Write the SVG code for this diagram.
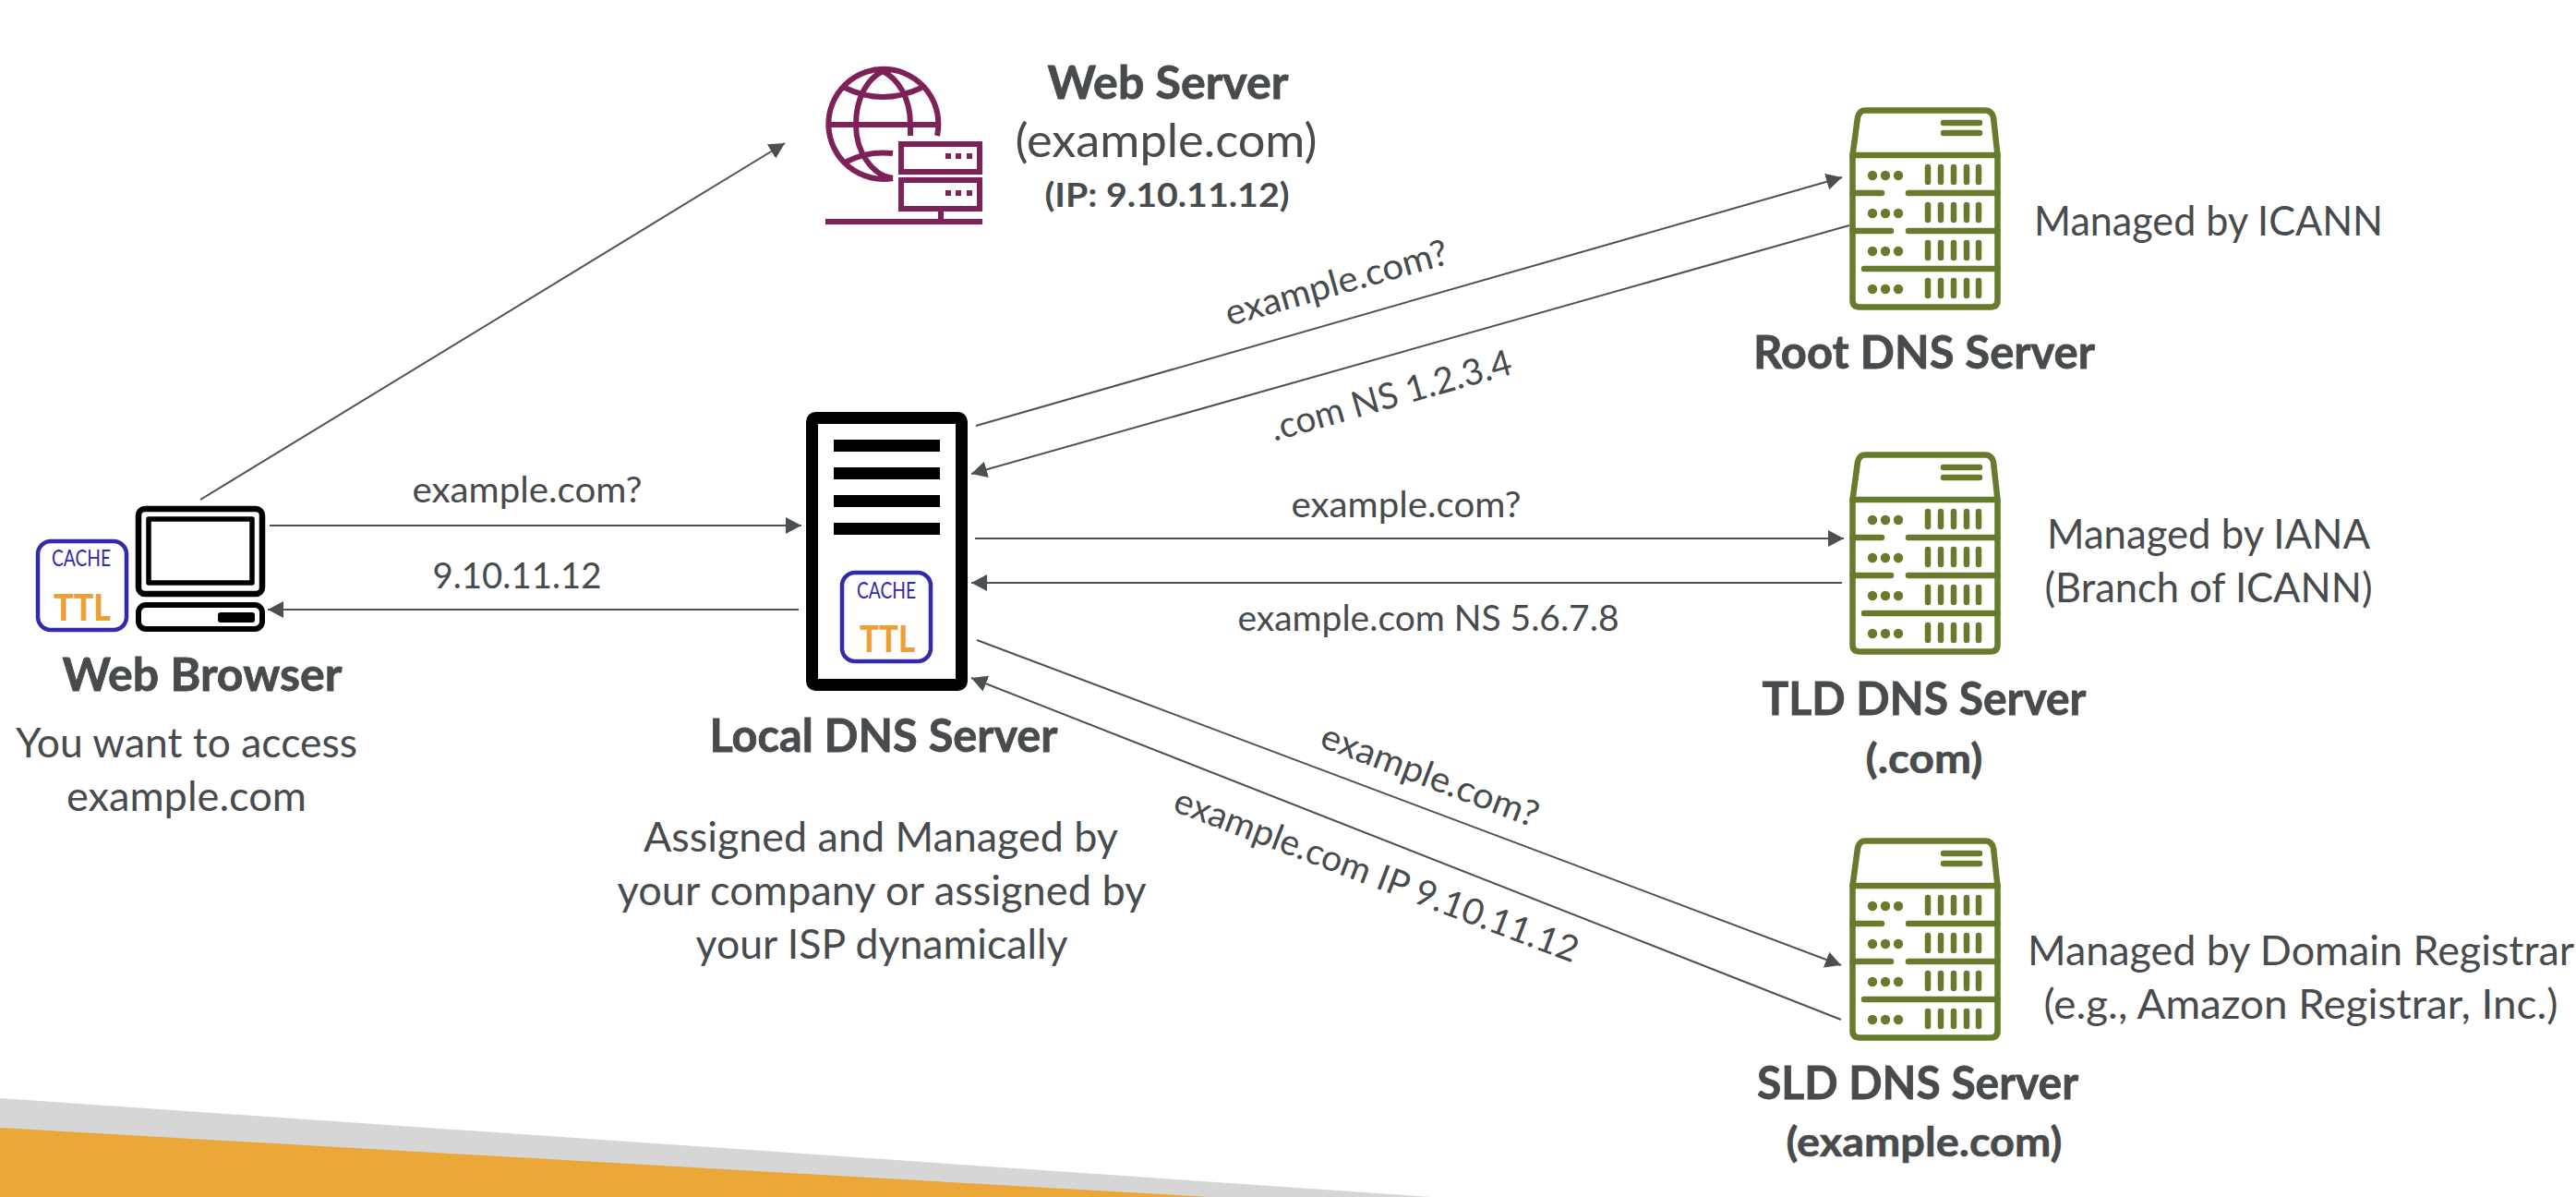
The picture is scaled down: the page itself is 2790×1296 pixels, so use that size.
<svg xmlns="http://www.w3.org/2000/svg" width="2790" height="1296" viewBox="0 0 2790 1296">
<style>
text{font-family:Lato,"Liberation Sans",sans-serif;fill:#474b4d;text-anchor:middle}
.b{font-weight:700;font-size:50px;stroke:#474b4d;stroke-width:.8}
.d{font-size:44px}
.l{font-size:39px}
.c{font-size:25px;fill:#3229ab}
.t{font-size:39px;font-weight:900;fill:#ec9f35}
.con line{stroke:#4d5153;stroke-width:2;marker-end:url(#a)}
.pc{fill:none;stroke:#000;stroke-linejoin:round}
.cb{fill:#fff;stroke:#3229ab;stroke-width:4.500}
.w{fill:none;stroke:#7d2158;stroke-width:6}
.wf{fill:#7d2158}
.s{fill:none;stroke:#687a2c;stroke-width:6.500;stroke-linecap:round;stroke-linejoin:round}
.sf{fill:#687a2c}
</style>
<defs>
<marker id="a" markerUnits="userSpaceOnUse" markerWidth="18" markerHeight="18" refX="17" refY="9" orient="auto"><path d="M0,0L17,9L0,18Z" fill="#4a4f51"/></marker>
<g id="srv">
<path class="s" d="M2020,119.500H2150Q2157,119.500 2159,127L2163.500,168V325Q2163.500,332.500 2156,332.500H2014Q2006.500,332.500 2006.500,325V168L2012,127Q2014,119.500 2020,119.500Z"/>
<path class="s" d="M2006.500,168H2163.500M2006.500,209H2038M2067,209H2163.500M2006.500,250H2048M2067,250H2163.500M2019,291H2163.500M2105,133H2144M2105,144H2144"/>
<g id="row">
<circle class="sf" cx="2028" cy="190" r="5.200"/><circle class="sf" cx="2042" cy="190" r="5.200"/><circle class="sf" cx="2056" cy="190" r="5.200"/>
<path class="s" d="M2088,181V197M2102,181V197M2116,181V197M2130,181V197M2143,181V197"/>
</g>
<use href="#row" y="41"/><use href="#row" y="82"/><use href="#row" y="123"/>
</g>
</defs>
<rect width="2790" height="1296" fill="#fff"/>
<g id="banner">
<path d="M0,1189L1550,1296H0Z" fill="#d6d6d6"/>
<path d="M0,1221L1310,1296H0Z" fill="#eba738"/>
</g>
<g id="connectors" class="con">
<line x1="217" y1="541" x2="850" y2="155"/>
<line x1="292" y1="569" x2="868" y2="569"/>
<line x1="865" y1="660" x2="290" y2="660"/>
<line x1="1057" y1="461" x2="1995" y2="192"/>
<line x1="2003" y1="244" x2="1052" y2="513"/>
<line x1="1056" y1="583" x2="1997" y2="583"/>
<line x1="1995" y1="631" x2="1052" y2="631"/>
<line x1="1058" y1="693" x2="1994" y2="1045"/>
<line x1="1994" y1="1104" x2="1052" y2="734"/>
</g>
<g id="labels">
<text class="l" x="571" y="544" textLength="249" lengthAdjust="spacingAndGlyphs">example.com?</text>
<text class="l" x="560" y="637" textLength="183" lengthAdjust="spacingAndGlyphs">9.10.11.12</text>
<text class="l" transform="translate(1451,319) rotate(-15.800)" textLength="249" lengthAdjust="spacingAndGlyphs">example.com?</text>
<text class="l" transform="translate(1510,441) rotate(-15.800)" textLength="270" lengthAdjust="spacingAndGlyphs">.com NS 1.2.3.4</text>
<text class="l" x="1523" y="560" textLength="249" lengthAdjust="spacingAndGlyphs">example.com?</text>
<text class="l" x="1547" y="683" textLength="413" lengthAdjust="spacingAndGlyphs">example.com NS 5.6.7.8</text>
<text class="l" transform="translate(1544,852) rotate(20.800)" textLength="249" lengthAdjust="spacingAndGlyphs">example.com?</text>
<text class="l" transform="translate(1486,960) rotate(20.800)" textLength="465" lengthAdjust="spacingAndGlyphs">example.com IP 9.10.11.12</text>
</g>
<g id="web-server">
<path class="w" d="M1015,147A59.500,59.500 0 1 0 967,193M897,135H1015M967,193C945,190 927,165 927,135C927,105 940,85 956,77C972,85 986,105 986,135V147M915,95Q956,115 998,95M917,175Q940,163 967,166"/>
<rect class="w" x="976" y="156" width="85" height="30"/>
<rect class="w" x="976" y="195" width="85" height="31"/>
<rect class="wf" x="1024" y="166" width="6" height="6"/><rect class="wf" x="1035" y="166" width="6" height="6"/><rect class="wf" x="1047" y="166" width="6" height="6"/>
<rect class="wf" x="1024" y="206" width="6" height="6"/><rect class="wf" x="1035" y="206" width="6" height="6"/><rect class="wf" x="1047" y="206" width="6" height="6"/>
<path class="w" d="M894,240H1064M1019,226V240"/>
<text class="b" x="1265" y="107" textLength="261" lengthAdjust="spacingAndGlyphs">Web Server</text>
<text x="1263" y="170" font-size="50" textLength="327" lengthAdjust="spacingAndGlyphs">(example.com)</text>
<text x="1264" y="224" font-size="37" font-weight="700" textLength="265" lengthAdjust="spacingAndGlyphs">(IP: 9.10.11.12)</text>
</g>
<g id="web-browser">
<rect class="pc" x="150" y="551" width="134" height="92" rx="7" stroke-width="6.500"/>
<rect class="pc" x="161" y="562" width="112" height="69" stroke-width="5.500"/>
<rect class="pc" x="150" y="655" width="134" height="26" rx="8" stroke-width="6"/>
<rect x="236" y="663" width="40" height="11" rx="3"/>
<rect class="cb" x="41" y="586" width="96" height="96" rx="14"/>
<text class="c" x="88" y="613" textLength="64" lengthAdjust="spacingAndGlyphs">CACHE</text>
<text class="t" x="89" y="672" textLength="62" lengthAdjust="spacingAndGlyphs">TTL</text>
<text class="b" x="219" y="748" textLength="303" lengthAdjust="spacingAndGlyphs">Web Browser</text>
<text class="d" x="202" y="820" textLength="370" lengthAdjust="spacingAndGlyphs">You want to access</text>
<text class="d" x="202" y="878" textLength="260" lengthAdjust="spacingAndGlyphs">example.com</text>
</g>
<g id="local-dns">
<rect x="879.500" y="452.500" width="162" height="289" rx="4" fill="none" stroke="#000" stroke-width="13"/>
<rect x="903" y="476" width="115" height="13"/><rect x="903" y="506" width="115" height="13"/><rect x="903" y="536" width="115" height="13"/><rect x="903" y="566" width="115" height="13"/>
<rect class="cb" x="912" y="620" width="96" height="96" rx="14"/>
<text class="c" x="960" y="648" textLength="64" lengthAdjust="spacingAndGlyphs">CACHE</text>
<text class="t" x="961" y="706" textLength="60" lengthAdjust="spacingAndGlyphs">TTL</text>
<text class="b" x="957" y="814" textLength="377" lengthAdjust="spacingAndGlyphs">Local DNS Server</text>
<text class="d" x="954" y="922" textLength="514" lengthAdjust="spacingAndGlyphs">Assigned and Managed by</text>
<text class="d" x="955" y="980" textLength="573" lengthAdjust="spacingAndGlyphs">your company or assigned by</text>
<text class="d" x="955" y="1038" textLength="403" lengthAdjust="spacingAndGlyphs">your ISP dynamically</text>
</g>
<g id="root-dns">
<use href="#srv"/>
<text class="d" x="2392" y="255" textLength="378" lengthAdjust="spacingAndGlyphs">Managed by ICANN</text>
<text class="b" x="2084" y="399" textLength="370" lengthAdjust="spacingAndGlyphs">Root DNS Server</text>
</g>
<g id="tld-dns">
<use href="#srv" y="373"/>
<text class="d" x="2392" y="594" textLength="350" lengthAdjust="spacingAndGlyphs">Managed by IANA</text>
<text class="d" x="2392" y="652" textLength="355" lengthAdjust="spacingAndGlyphs">(Branch of ICANN)</text>
<text class="b" x="2084" y="774" textLength="351" lengthAdjust="spacingAndGlyphs">TLD DNS Server</text>
<text x="2084" y="837" font-size="44" font-weight="700" stroke="#474b4d" stroke-width=".6" textLength="127" lengthAdjust="spacingAndGlyphs">(.com)</text>
</g>
<g id="sld-dns">
<use href="#srv" y="791"/>
<text class="d" x="2492" y="1045" textLength="592" lengthAdjust="spacingAndGlyphs">Managed by Domain Registrar</text>
<text class="d" x="2492" y="1103" textLength="557" lengthAdjust="spacingAndGlyphs">(e.g., Amazon Registrar, Inc.)</text>
<text class="b" x="2077" y="1190" textLength="348" lengthAdjust="spacingAndGlyphs">SLD DNS Server</text>
<text x="2084" y="1252" font-size="44" font-weight="700" stroke="#474b4d" stroke-width=".6" textLength="299" lengthAdjust="spacingAndGlyphs">(example.com)</text>
</g>
</svg>
